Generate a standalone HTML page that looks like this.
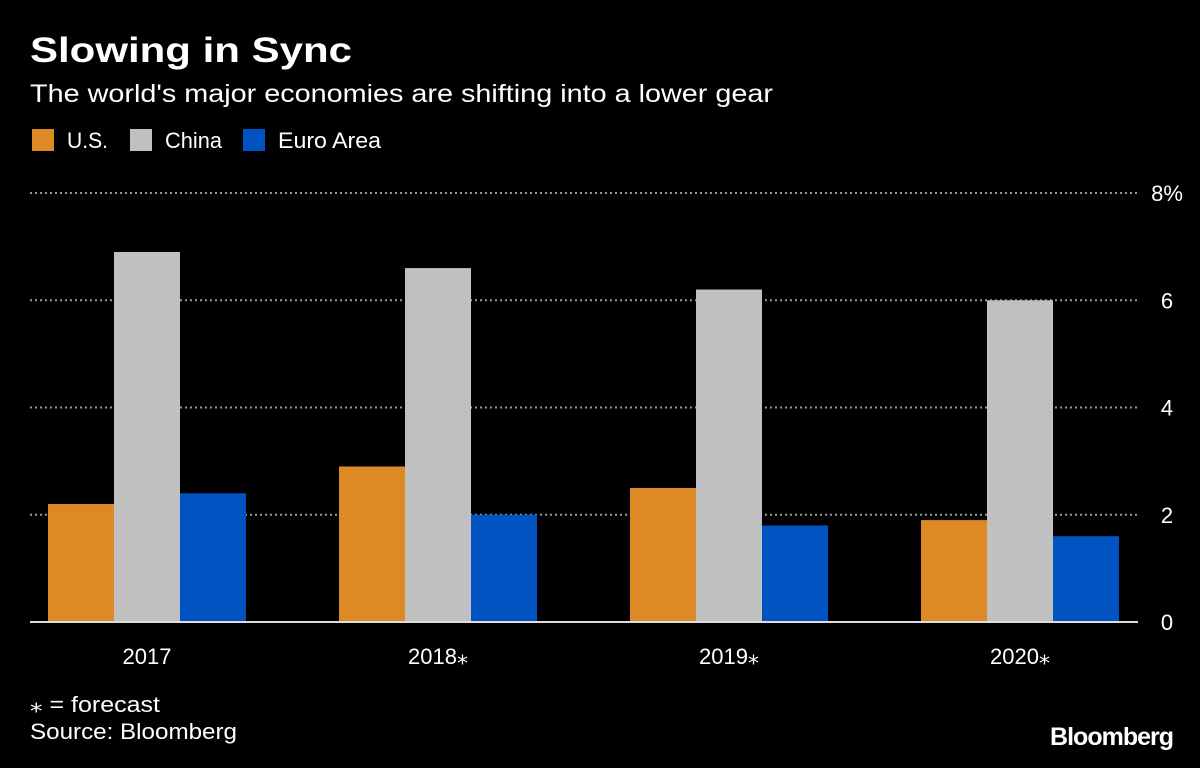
<!DOCTYPE html>
<html><head><meta charset="utf-8"><style>
body{margin:0;background:#000;width:1200px;height:763px;overflow:hidden;font-family:"Liberation Sans",sans-serif;color:#fff}
</style></head><body>
<svg width="1200" height="763" xmlns="http://www.w3.org/2000/svg">
<rect width="1200" height="763" fill="#000"/>
<text x="30" y="62" font-size="35" font-weight="bold" fill="#fff" textLength="322" lengthAdjust="spacingAndGlyphs">Slowing in Sync</text>
<text x="30" y="102" font-size="25" fill="#fff" textLength="743" lengthAdjust="spacingAndGlyphs">The world's major economies are shifting into a lower gear</text>
<g id="legend"></g>
<g id="grid"></g>
<g id="bars"></g>
<g id="xlabels"></g>
<text x="30" y="712" font-size="22" fill="#fff" textLength="130" lengthAdjust="spacingAndGlyphs">⁎ = forecast</text>
<text x="30" y="739" font-size="22" fill="#fff" textLength="207" lengthAdjust="spacingAndGlyphs">Source: Bloomberg</text>
<text x="1173" y="745" font-size="25" font-weight="bold" fill="#fff" text-anchor="end" letter-spacing="-1">Bloomberg</text>
</svg>
<script>
const categories=["2017","2018⁎","2019⁎","2020⁎"];
const seriesNames=["U.S.","China","Euro Area"];
const usValues=[2.2,2.9,2.5,1.9];
const chinaValues=[6.9,6.6,6.2,6.0];
const euroValues=[2.4,2.0,1.8,1.6];
const yTicks=[0,2,4,6,8];
const yTickLabels=["0","2","4","6","8%"];
const colors=["#dd8a26","#c0c0c0","#0053c0"];
const legendWidths=[41,57,103];
const NS="http://www.w3.org/2000/svg";
const y0=622,yTop=193,x0=30,x1=1138;
const y=v=>y0-(v/8)*(y0-yTop);
const xc=i=>147+i*291;
const bw=66;
function mk(t,a){const e=document.createElementNS(NS,t);for(const k in a)e.setAttribute(k,a[k]);return e;}
const grid=document.getElementById('grid');
yTicks.forEach((t,i)=>{
  if(t>0){const l=mk('line',{x1:x0,x2:x1,y1:y(t),y2:y(t),stroke:'#999','stroke-width':2,'stroke-dasharray':'2,3'});
  
  
  grid.appendChild(l);}
  const tx=mk('text',{x:1167,y:y(t)+8,'font-size':22,fill:'#fff','text-anchor':'middle'});
  tx.textContent=yTickLabels[i];
  
  
  grid.appendChild(tx);
});
const bars=document.getElementById('bars');
const series=[usValues,chinaValues,euroValues];
categories.forEach((c,i)=>{
  series.forEach((s,j)=>{
    const r=mk('rect',{x:xc(i)+(j-1.5)*bw,y:y(s[i]),width:bw,height:y0-y(s[i]),fill:colors[j]});
    
    
    bars.appendChild(r);
  });
  const t=mk('text',{x:xc(i),y:664,'font-size':22,fill:'#fff','text-anchor':'middle'});
  t.textContent=c;
  
  
  document.getElementById('xlabels').appendChild(t);
});
const ax=mk('line',{x1:x0,x2:x1,y1:y0,y2:y0,stroke:'#ddd','stroke-width':2});


bars.appendChild(ax);
const lg=document.getElementById('legend');
const lx=[32,130,243];
seriesNames.forEach((n,j)=>{
  const r=mk('rect',{x:lx[j],y:129,width:22,height:22,fill:colors[j]});
  
  
  lg.appendChild(r);
  const t=mk('text',{x:lx[j]+35,y:148,'font-size':22,fill:'#fff',textLength:legendWidths[j],lengthAdjust:'spacingAndGlyphs'});
  t.textContent=n;
  
  
  lg.appendChild(t);
});
</script>
</body></html>
